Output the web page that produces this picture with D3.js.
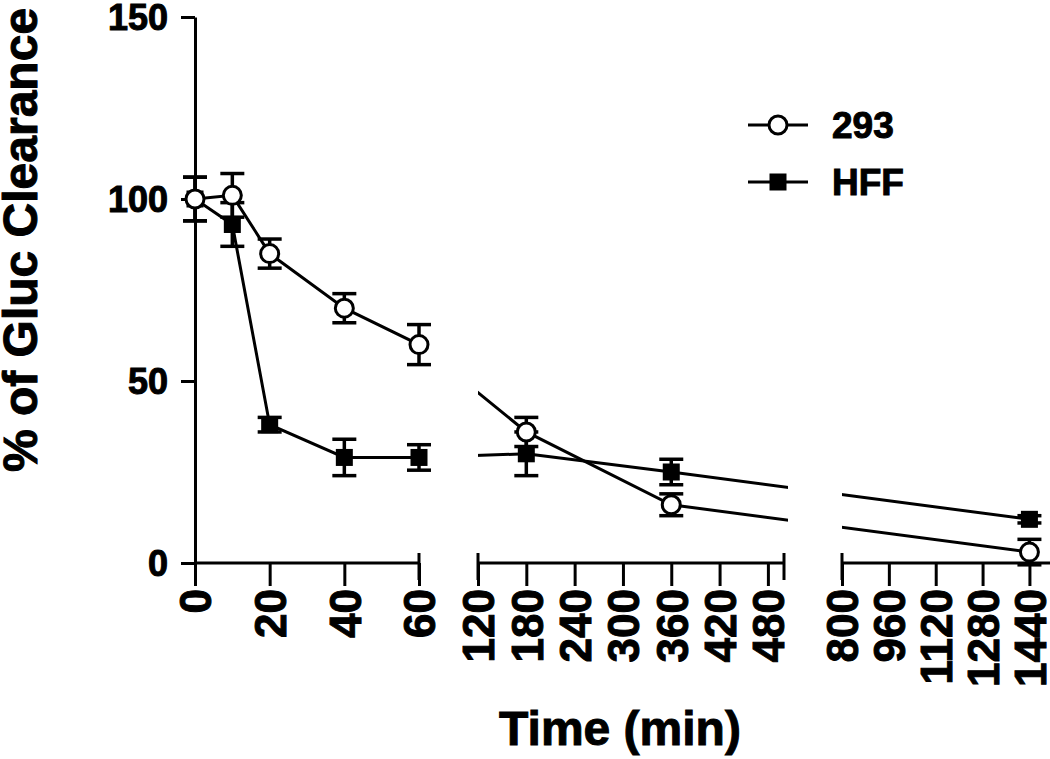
<!DOCTYPE html>
<meta charset="utf-8">
<style>
body { margin: 0; background: #fff; }
svg { display: block; font-family: "Liberation Sans", Arial, Helvetica, sans-serif; font-weight: bold; }
.axis path, .axis line { stroke: #000; stroke-width: 3px; }
.axis text { fill: #000; font-weight: bold; }
text { stroke: #000; stroke-width: 1px; }
.series { fill: none; stroke: #000; stroke-width: 3px; }
.err { stroke: #000; stroke-width: 3.5px; }
</style>
<svg width="1050" height="759"></svg>
<script src="https://cdn.jsdelivr.net/npm/d3@7"></script>
<script>
// data
var times = [0, 10, 20, 40, 60, 180, 360, 1440];
var cells293 = [100, 101, 85, 70, 60, 36, 16, 3];
var err293   = [6, 6, 4, 4, 5.5, 4, 3, 3.5];
var cellsHFF = [100, 93, 38, 29, 29, 30, 25, 12];
var errHFF   = [6, 6, 2, 5, 3.5, 6, 3.5, 1];
var seriesNames = ["293", "HFF"];
var yTicks = [0, 50, 100, 150];
var ticks1 = [0, 20, 40, 60];
var ticks2 = [120, 180, 240, 300, 360, 420, 480];
var ticks3 = [800, 960, 1120, 1280, 1440];

var svg = d3.select("svg");
var axisY = 563;

var y = d3.scaleLinear().domain([0, 150]).range([axisY, 17]);

// three segments of the broken x axis
var x1 = d3.scaleLinear().domain([0, 60]).range([195, 419]),
    x2 = d3.scaleLinear().domain([120, 500]).range([478, 784]),
    x3 = d3.scaleLinear().domain([800, 1500]).range([842, 1047]);

function xPos(t) {
  if (t <= 60) return x1(t);
  if (t <= 500) return x2(t);
  return x3(t);
}

var data293 = times.map(function(t, i) { return {t: t, v: cells293[i], e: err293[i]}; });
var dataHFF = times.map(function(t, i) { return {t: t, v: cellsHFF[i], e: errHFF[i]}; });

// clip lines to the segments
var clip = svg.append("defs").append("clipPath").attr("id", "segs");
[x1, x2, x3].forEach(function(s) {
  var r = s.range();
  clip.append("rect").attr("x", r[0]).attr("y", 0)
    .attr("width", r[1] - r[0] + 4).attr("height", 759);
});

// y axis
var yAxis = svg.append("g")
  .attr("class", "axis")
  .attr("transform", "translate(195,0)")
  .call(d3.axisLeft(y).tickValues(yTicks).tickSize(14).tickPadding(13).tickSizeOuter(0));
yAxis.selectAll("text").style("font-size", "36px").attr("dy", "0.36em");

// x axes
function xAxis(scale, vals, capStart, capEnd, extend) {
  var g = svg.append("g")
    .attr("class", "axis")
    .attr("transform", "translate(0," + axisY + ")")
    .call(d3.axisBottom(scale).tickValues(vals).tickFormat(d3.format("d"))
      .tickSize(23).tickSizeOuter(0));
  g.select(".domain").remove();
  var r = scale.range();
  g.append("line").attr("x1", r[0]).attr("x2", extend ? 1050 : r[1]);
  if (capStart) g.append("line").attr("x1", r[0]).attr("x2", r[0]).attr("y1", -10).attr("y2", 17);
  if (capEnd) g.append("line").attr("x1", r[1]).attr("x2", r[1]).attr("y1", -10).attr("y2", 17);
  g.selectAll(".tick text")
    .attr("transform", "rotate(-90)")
    .attr("x", -26).attr("y", 0)
    .attr("dy", "0.36em")
    .attr("text-anchor", "end")
    .style("font-size", "44px");
}
xAxis(x1, ticks1, false, true, false);
xAxis(x2, ticks2, true, true, false);
xAxis(x3, ticks3, true, false, true);

// axis titles
svg.append("text")
  .attr("transform", "translate(37,240) rotate(-90)")
  .attr("text-anchor", "middle")
  .style("font-size", "48px")
  .text("% of Gluc Clearance");

svg.append("text")
  .attr("x", 620).attr("y", 745)
  .attr("text-anchor", "middle")
  .style("font-size", "48px")
  .text("Time (min)");

var line = d3.line()
  .x(function(d) { return xPos(d.t); })
  .y(function(d) { return y(d.v); });

[dataHFF, data293].forEach(function(d) {
  svg.append("path").datum(d).attr("class", "series")
    .attr("clip-path", "url(#segs)").attr("d", line);
});

// error bars
function errBars(d) {
  var g = svg.append("g");
  d.forEach(function(p) {
    var cx = xPos(p.t);
    g.append("line").attr("class", "err")
      .attr("x1", cx).attr("x2", cx).attr("y1", y(p.v + p.e)).attr("y2", y(p.v - p.e));
    [p.v + p.e, p.v - p.e].forEach(function(v) {
      g.append("line").attr("class", "err")
        .attr("x1", cx - 12).attr("x2", cx + 12).attr("y1", y(v)).attr("y2", y(v));
    });
  });
}
errBars(dataHFF);
errBars(data293);

function square(g, cx, cy) {
  g.append("rect").attr("x", cx - 8.5).attr("y", cy - 8.5)
    .attr("width", 17).attr("height", 17).attr("fill", "#000");
}
function circle(g, cx, cy) {
  g.append("circle").attr("cx", cx).attr("cy", cy).attr("r", 9)
    .attr("fill", "#fff").attr("stroke", "#000").attr("stroke-width", 3);
}

var marks = svg.append("g");
dataHFF.forEach(function(p) { square(marks, xPos(p.t), y(p.v)); });
data293.forEach(function(p) { circle(marks, xPos(p.t), y(p.v)); });

// legend
var legend = svg.append("g");
[125, 182].forEach(function(ly, i) {
  legend.append("line").attr("x1", 748).attr("x2", 808).attr("y1", ly).attr("y2", ly)
    .attr("stroke", "#000").attr("stroke-width", 3);
  if (i === 0) circle(legend, 778, ly); else square(legend, 778, ly);
  legend.append("text").attr("x", 832).attr("y", ly + 13)
    .style("font-size", "37px").text(seriesNames[i]);
});
</script>
